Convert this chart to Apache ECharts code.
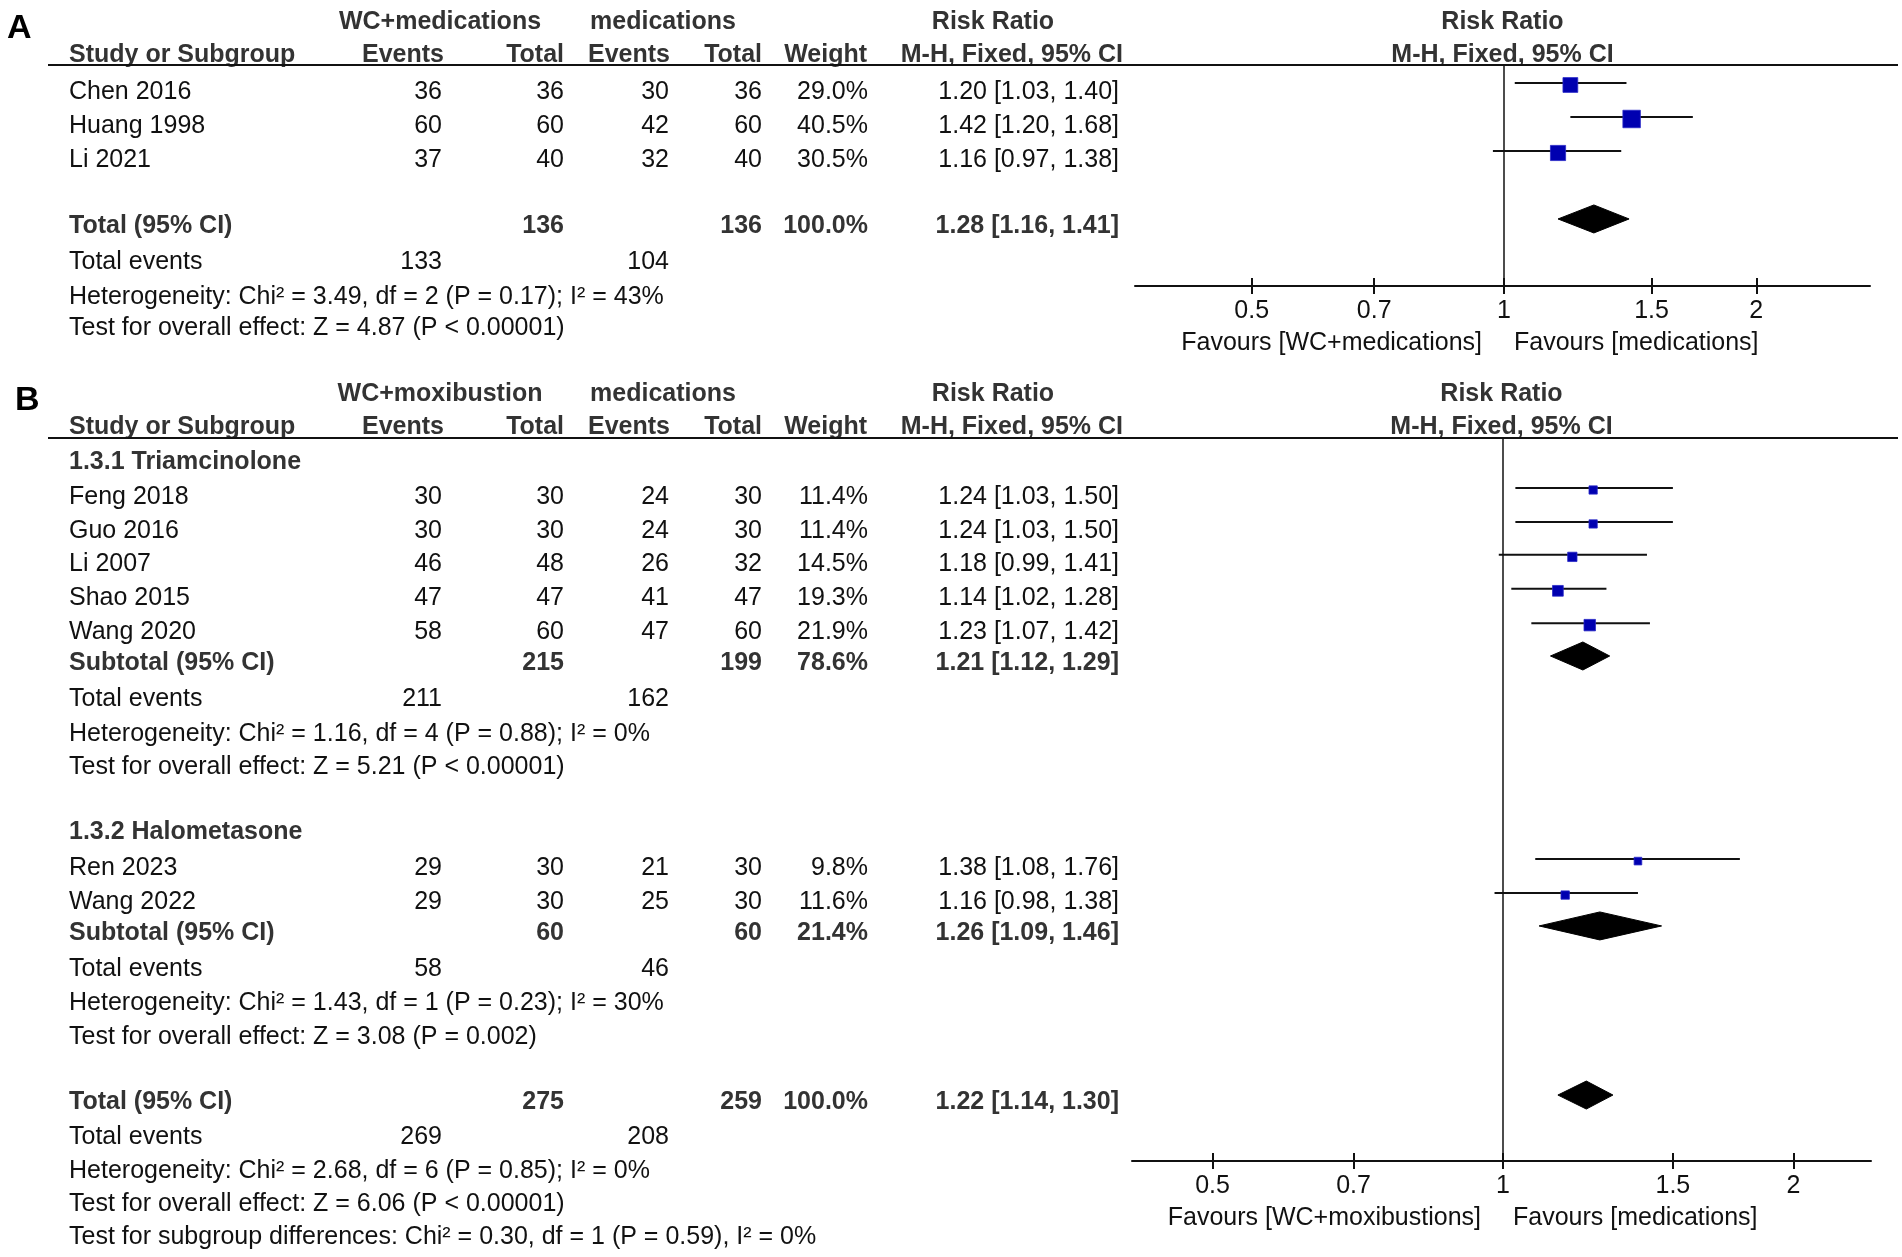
<!DOCTYPE html>
<html>
<head>
<meta charset="utf-8">
<script src="https://cdn.jsdelivr.net/npm/echarts@6/dist/echarts.min.js"></script>
<style>
  html, body { margin: 0; padding: 0; background: #fff; }
  #main { width: 1902px; height: 1257px; }
</style>
</head>
<body>
<div id="main"></div>
<script>
// ---- data: panel A (WC+medications vs medications) ----
var studiesA   = ['Chen 2016', 'Huang 1998', 'Li 2021'];
var expEventsA = [36, 60, 37];
var expTotalA  = [36, 60, 40];
var ctlEventsA = [30, 42, 32];
var ctlTotalA  = [36, 60, 40];
var weightA    = [29.0, 40.5, 30.5];
var rrA        = [1.20, 1.42, 1.16];
var loA        = [1.03, 1.20, 0.97];
var hiA        = [1.40, 1.68, 1.38];

// ---- data: panel B, subgroup 1.3.1 Triamcinolone ----
var studiesB1   = ['Feng 2018', 'Guo 2016', 'Li 2007', 'Shao 2015', 'Wang 2020'];
var expEventsB1 = [30, 30, 46, 47, 58];
var expTotalB1  = [30, 30, 48, 47, 60];
var ctlEventsB1 = [24, 24, 26, 41, 47];
var ctlTotalB1  = [30, 30, 32, 47, 60];
var weightB1    = [11.4, 11.4, 14.5, 19.3, 21.9];
var rrB1        = [1.24, 1.24, 1.18, 1.14, 1.23];
var loB1        = [1.03, 1.03, 0.99, 1.02, 1.07];
var hiB1        = [1.50, 1.50, 1.41, 1.28, 1.42];

// ---- data: panel B, subgroup 1.3.2 Halometasone ----
var studiesB2   = ['Ren 2023', 'Wang 2022'];
var expEventsB2 = [29, 29];
var expTotalB2  = [30, 30];
var ctlEventsB2 = [21, 25];
var ctlTotalB2  = [30, 30];
var weightB2    = [9.8, 11.6];
var rrB2        = [1.38, 1.16];
var loB2        = [1.08, 0.98];
var hiB2        = [1.76, 1.38];

// ---- pooled rows: A total, B subtotal 1, B subtotal 2, B total ----
var pooledLabel     = ['Total (95% CI)', 'Subtotal (95% CI)', 'Subtotal (95% CI)', 'Total (95% CI)'];
var pooledExpTotal  = [136, 215, 60, 275];
var pooledCtlTotal  = [136, 199, 60, 259];
var pooledWeight    = [100.0, 78.6, 21.4, 100.0];
var pooledRR        = [1.28, 1.21, 1.26, 1.22];
var pooledLo        = [1.16, 1.12, 1.09, 1.14];
var pooledHi        = [1.41, 1.29, 1.46, 1.30];
var pooledExpEvents = [133, 211, 58, 269];
var pooledCtlEvents = [104, 162, 46, 208];
var hetText = [
  'Heterogeneity: Chi\u00b2 = 3.49, df = 2 (P = 0.17); I\u00b2 = 43%',
  'Heterogeneity: Chi\u00b2 = 1.16, df = 4 (P = 0.88); I\u00b2 = 0%',
  'Heterogeneity: Chi\u00b2 = 1.43, df = 1 (P = 0.23); I\u00b2 = 30%',
  'Heterogeneity: Chi\u00b2 = 2.68, df = 6 (P = 0.85); I\u00b2 = 0%'
];
var effectText = [
  'Test for overall effect: Z = 4.87 (P < 0.00001)',
  'Test for overall effect: Z = 5.21 (P < 0.00001)',
  'Test for overall effect: Z = 3.08 (P = 0.002)',
  'Test for overall effect: Z = 6.06 (P < 0.00001)'
];
var subgroupText = 'Test for subgroup differences: Chi\u00b2 = 0.30, df = 1 (P = 0.59), I\u00b2 = 0%';
var groupNames = ['1.3.1 Triamcinolone', '1.3.2 Halometasone'];

// ---- labels ----
var panelLetters = ['A', 'B'];
var expLabels    = ['WC+medications', 'WC+moxibustion'];
var favLeft      = ['Favours [WC+medications]', 'Favours [WC+moxibustions]'];
var favRight     = ['Favours [medications]', 'Favours [medications]'];
var headRow2     = ['Study or Subgroup', 'Events', 'Total', 'Events', 'Total', 'Weight', 'M-H, Fixed, 95% CI'];
var tickValues   = [0.5, 0.7, 1, 1.5, 2];

// ---- layout (row positions, in row units) ----
var rowsStudyA  = [0, 1, 2];
var rowsPooledA = [3.94, 5.0, 6.03, 6.94];
var rowsStudyB1 = [1.02, 2.01, 2.97, 3.96, 4.96];
var rowsStudyB2 = [11.84, 12.83];
var rowsPooledB = [[5.86, 6.91, 7.93, 8.89], [13.73, 14.78, 15.77, 16.76], [18.66, 19.68, 20.67, 21.63]];
var rowsGroupB  = [0, 10.79];
var rowSubgroup = 22.6;
var rowsHead    = [[-2.06, -1.09], [-1.98, -1.02]];

var FONT = '"Liberation Sans", Arial, Helvetica, sans-serif';
var COL = { name: 69, e1: 442, t1: 564, e2: 669, t2: 762, w: 868, ci: 1119 };
var X_RANGE = [[0.36288, 2.7332], [0.41255, 2.4067]];
var Y_RANGE = [[-0.794, 5.706], [-0.6997, 20.379]];

var myChart = echarts.init(document.getElementById('main'));

function studyRenderer(k) {
  return function (params, api) {
    var row = api.value(3);
    var lo = api.coord([api.value(0), row]);
    var hi = api.coord([api.value(1), row]);
    var mid = api.coord([api.value(2), row]);
    var side = k * Math.sqrt(api.value(4));
    var yl = mid[1] - 9, ys = mid[1] - 7;
    return {
      type: 'group',
      children: [
        { type: 'line', shape: { x1: lo[0], y1: yl, x2: hi[0], y2: yl },
          style: { stroke: '#111', lineWidth: 2 } },
        { type: 'rect', shape: { x: mid[0] - side / 2, y: ys - side / 2, width: side, height: side },
          style: { fill: '#0000b0', stroke: '#2a2ac8', lineWidth: 0.8 } }
      ]
    };
  };
}

function diamondRenderer(params, api) {
  var row = api.value(3);
  var lo = api.coord([api.value(0), row]);
  var hi = api.coord([api.value(1), row]);
  var mid = api.coord([api.value(2), row]);
  var y = mid[1] - 7, h = 14;
  return {
    type: 'polygon',
    shape: { points: [[lo[0], y], [mid[0], y - h], [hi[0], y], [mid[0], y + h]] },
    style: { fill: '#000', stroke: '#000', lineWidth: 1 }
  };
}

// two overlapping x axes per grid: one draws ticks downward, the other upward
function xAxes(grid, range, gridHeight) {
  var a = {
    gridIndex: grid, type: 'log', logBase: 10, min: range[0], max: range[1], position: 'bottom',
    splitLine: { show: false },
    axisLine: { show: true, onZero: false, lineStyle: { color: '#111', width: 2 } },
    axisTick: { show: true, inside: false, length: 8, customValues: tickValues, lineStyle: { color: '#111', width: 2 } },
    axisLabel: { show: true, customValues: tickValues, margin: 13, fontSize: 25, fontFamily: FONT, color: '#111',
      formatter: function (v) { return String(Math.round(v * 100) / 100); } }
  };
  var b = {
    gridIndex: grid, type: 'log', logBase: 10, min: range[0], max: range[1], position: 'top', offset: -gridHeight,
    splitLine: { show: false },
    axisLine: { show: false, onZero: false },
    axisTick: { show: true, inside: false, length: 8, customValues: tickValues, lineStyle: { color: '#111', width: 2 } },
    axisLabel: { show: false }
  };
  return [a, b];
}

function studyData(lo, hi, rr, rows, w) {
  return rr.map(function (v, i) { return [lo[i], hi[i], v, rows[i], w[i]]; });
}

var refLine = {
  silent: true, symbol: 'none', label: { show: false },
  lineStyle: { color: '#111', width: 1.5, type: 'solid' },
  data: [{ xAxis: 1 }]
};

var option = {
  backgroundColor: '#fff',
  animation: false,
  grid: [
    { left: 1135, top: 65, width: 735, height: 221 },
    { left: 1132, top: 438, width: 739, height: 723 }
  ],
  xAxis: xAxes(0, X_RANGE[0], 221).concat(xAxes(1, X_RANGE[1], 723)),
  yAxis: [
    { gridIndex: 0, type: 'value', inverse: true, min: Y_RANGE[0][0], max: Y_RANGE[0][1], show: false },
    { gridIndex: 1, type: 'value', inverse: true, min: Y_RANGE[1][0], max: Y_RANGE[1][1], show: false }
  ],
  series: [
    { type: 'custom', xAxisIndex: 0, yAxisIndex: 0, renderItem: studyRenderer(2.75),
      encode: { x: [0, 1, 2], y: 3 },
      data: studyData(loA, hiA, rrA, rowsStudyA, weightA), markLine: refLine },
    { type: 'custom', xAxisIndex: 0, yAxisIndex: 0, renderItem: diamondRenderer,
      encode: { x: [0, 1, 2], y: 3 },
      data: [[pooledLo[0], pooledHi[0], pooledRR[0], rowsPooledA[0]]] },
    { type: 'custom', xAxisIndex: 2, yAxisIndex: 1, renderItem: studyRenderer(2.45),
      encode: { x: [0, 1, 2], y: 3 },
      data: studyData(loB1, hiB1, rrB1, rowsStudyB1, weightB1)
        .concat(studyData(loB2, hiB2, rrB2, rowsStudyB2, weightB2)), markLine: refLine },
    { type: 'custom', xAxisIndex: 2, yAxisIndex: 1, renderItem: diamondRenderer,
      encode: { x: [0, 1, 2], y: 3 },
      data: [1, 2, 3].map(function (j, n) {
        return [pooledLo[j], pooledHi[j], pooledRR[j], rowsPooledB[n][0]];
      }) }
  ]
};
myChart.setOption(option);

// ---- table text, placed with the chart's own y scales ----
function txt(x, y, s, align, bold, size) {
  return {
    type: 'text', x: x, y: y, silent: true,
    style: {
      text: s, fontSize: size || 25, fontFamily: FONT, fontWeight: bold ? 'bold' : 'normal',
      fill: bold ? '#333' : '#111', textAlign: align || 'left', textVerticalAlign: 'middle'
    }
  };
}
function py(p, row) { return myChart.convertToPixel({ yAxisIndex: p }, row); }
function px(p, v) { return myChart.convertToPixel({ xAxisIndex: p * 2 }, v); }

function ci(rr, lo, hi) { return rr.toFixed(2) + ' [' + lo.toFixed(2) + ', ' + hi.toFixed(2) + ']'; }

var g = [];

function addStudies(p, rows, names, e1, t1, e2, t2, w, rr, lo, hi) {
  names.forEach(function (n, i) {
    var y = py(p, rows[i]);
    g.push(txt(COL.name, y, n));
    g.push(txt(COL.e1, y, String(e1[i]), 'right'));
    g.push(txt(COL.t1, y, String(t1[i]), 'right'));
    g.push(txt(COL.e2, y, String(e2[i]), 'right'));
    g.push(txt(COL.t2, y, String(t2[i]), 'right'));
    g.push(txt(COL.w, y, w[i].toFixed(1) + '%', 'right'));
    g.push(txt(COL.ci, y, ci(rr[i], lo[i], hi[i]), 'right'));
  });
}

function addPooled(p, rows, j) {
  var y = py(p, rows[0]);
  g.push(txt(COL.name, y, pooledLabel[j], 'left', true));
  g.push(txt(COL.t1, y, String(pooledExpTotal[j]), 'right', true));
  g.push(txt(COL.t2, y, String(pooledCtlTotal[j]), 'right', true));
  g.push(txt(COL.w, y, pooledWeight[j].toFixed(1) + '%', 'right', true));
  g.push(txt(COL.ci, y, ci(pooledRR[j], pooledLo[j], pooledHi[j]), 'right', true));
  y = py(p, rows[1]);
  g.push(txt(COL.name, y, 'Total events'));
  g.push(txt(COL.e1, y, String(pooledExpEvents[j]), 'right'));
  g.push(txt(COL.e2, y, String(pooledCtlEvents[j]), 'right'));
  g.push(txt(COL.name, py(p, rows[2]), hetText[j]));
  g.push(txt(COL.name, py(p, rows[3]), effectText[j]));
}

function addHeader(p) {
  var yTop = py(p, Y_RANGE[p][0]);
  var yBot = py(p, Y_RANGE[p][1]);
  var y1 = py(p, rowsHead[p][0]);
  var y2 = py(p, rowsHead[p][1]);
  var xc = (px(p, X_RANGE[p][0]) + px(p, X_RANGE[p][1])) / 2;
  var x1 = px(p, 1);
  g.push(txt(p === 0 ? 7 : 15, y1 + 7, panelLetters[p], 'left', true, 34));
  g[g.length - 1].style.fill = '#000';
  g.push(txt(440, y1, expLabels[p], 'center', true));
  g.push(txt(663, y1, 'medications', 'center', true));
  g.push(txt(993, y1, 'Risk Ratio', 'center', true));
  g.push(txt(xc, y1, 'Risk Ratio', 'center', true));
  g.push(txt(COL.name, y2, headRow2[0], 'left', true));
  g.push(txt(444, y2, headRow2[1], 'right', true));
  g.push(txt(COL.t1, y2, headRow2[2], 'right', true));
  g.push(txt(670, y2, headRow2[3], 'right', true));
  g.push(txt(COL.t2, y2, headRow2[4], 'right', true));
  g.push(txt(867, y2, headRow2[5], 'right', true));
  g.push(txt(1123, y2, headRow2[6], 'right', true));
  g.push(txt(xc, y2, headRow2[6], 'center', true));
  g.push({ type: 'line', silent: true, shape: { x1: 48, y1: yTop, x2: 1898, y2: yTop },
    style: { stroke: '#111', lineWidth: 2 } });
  g.push(txt(x1 - 22, yBot + 57, favLeft[p], 'right'));
  g.push(txt(x1 + 10, yBot + 57, favRight[p], 'left'));
}

addHeader(0);
addStudies(0, rowsStudyA, studiesA, expEventsA, expTotalA, ctlEventsA, ctlTotalA, weightA, rrA, loA, hiA);
addPooled(0, rowsPooledA, 0);

addHeader(1);
g.push(txt(COL.name, py(1, rowsGroupB[0]), groupNames[0], 'left', true));
addStudies(1, rowsStudyB1, studiesB1, expEventsB1, expTotalB1, ctlEventsB1, ctlTotalB1, weightB1, rrB1, loB1, hiB1);
addPooled(1, rowsPooledB[0], 1);
g.push(txt(COL.name, py(1, rowsGroupB[1]), groupNames[1], 'left', true));
addStudies(1, rowsStudyB2, studiesB2, expEventsB2, expTotalB2, ctlEventsB2, ctlTotalB2, weightB2, rrB2, loB2, hiB2);
addPooled(1, rowsPooledB[1], 2);
addPooled(1, rowsPooledB[2], 3);
g.push(txt(COL.name, py(1, rowSubgroup), subgroupText));

myChart.setOption({ graphic: g });
</script>
</body>
</html>
